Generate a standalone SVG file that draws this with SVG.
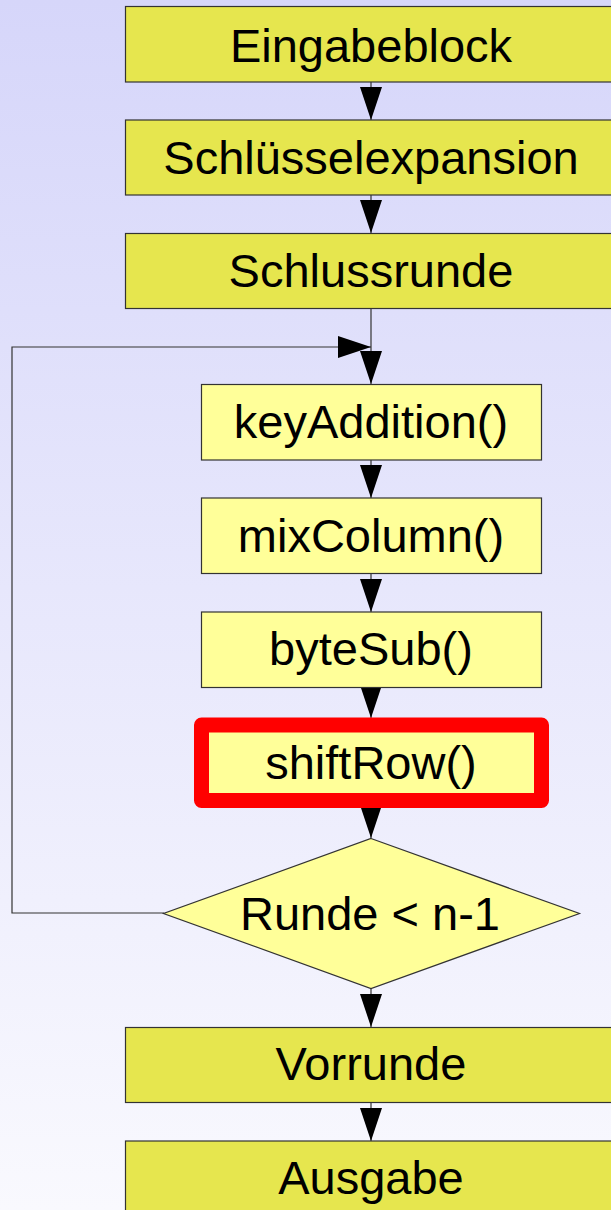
<svg xmlns="http://www.w3.org/2000/svg" width="611" height="1210" viewBox="0 0 611 1210">
<defs>
<linearGradient id="bg" x1="0" y1="0" x2="0" y2="1">
<stop offset="0" stop-color="#d6d6fa"/>
<stop offset="1" stop-color="#f9f9fe"/>
</linearGradient>
<marker id="ah" markerUnits="userSpaceOnUse" markerWidth="33" markerHeight="22" refX="33" refY="11" orient="auto">
<path d="M0,0 L33,11 L0,22 z" fill="#000"/>
</marker>
<style>
.main{fill:#e6e64e;stroke:#333;stroke-width:1.2}
.sub{fill:#ffff99;stroke:#333;stroke-width:1.2}
.hl{fill:#ffff99;stroke:#ff0000;stroke-width:15;stroke-linejoin:round}
.t{font-family:"Liberation Sans",Arial,sans-serif;font-size:47px;fill:#000;text-anchor:middle}
.c{fill:none;stroke:#333;stroke-width:1.2}
</style>
</defs>
<rect x="0" y="0" width="611" height="1210" fill="url(#bg)"/>
<g id="connectors">
<line class="c" x1="371" y1="82" x2="371" y2="120" marker-end="url(#ah)"/>
<line class="c" x1="371" y1="195" x2="371" y2="233" marker-end="url(#ah)"/>
<line class="c" x1="371" y1="309" x2="371" y2="384" marker-end="url(#ah)"/>
<path class="c" d="M164,913 H12 V347 H371" marker-end="url(#ah)"/>
<line class="c" x1="371" y1="460" x2="371" y2="498" marker-end="url(#ah)"/>
<line class="c" x1="371" y1="573" x2="371" y2="612" marker-end="url(#ah)"/>
<line class="c" x1="371" y1="687" x2="371" y2="718" marker-end="url(#ah)"/>
<line class="c" x1="371" y1="808" x2="371" y2="838" marker-end="url(#ah)"/>
<line class="c" x1="371" y1="989" x2="371" y2="1027" marker-end="url(#ah)"/>
<line class="c" x1="371" y1="1103" x2="371" y2="1141" marker-end="url(#ah)"/>
</g>
<g id="eingabeblock">
<rect class="main" x="125.5" y="6.5" width="492" height="75.5"/>
<text class="t" x="371" y="62">Eingabeblock</text>
</g>
<g id="schluesselexpansion">
<rect class="main" x="125.5" y="120" width="492" height="75"/>
<text class="t" x="371" y="174">Schlüsselexpansion</text>
</g>
<g id="schlussrunde">
<rect class="main" x="125.5" y="233.5" width="492" height="75"/>
<text class="t" x="371" y="287">Schlussrunde</text>
</g>
<g id="keyaddition">
<rect class="sub" x="201.5" y="384.5" width="340" height="75.5"/>
<text class="t" x="371" y="438">keyAddition()</text>
</g>
<g id="mixcolumn">
<rect class="sub" x="201.5" y="498" width="340" height="75.5"/>
<text class="t" x="371" y="552">mixColumn()</text>
</g>
<g id="bytesub">
<rect class="sub" x="201.5" y="612" width="340" height="75.5"/>
<text class="t" x="371" y="665">byteSub()</text>
</g>
<g id="shiftrow">
<rect class="hl" x="201.5" y="725" width="340" height="75.5"/>
<text class="t" x="371" y="779">shiftRow()</text>
</g>
<g id="runde">
<polygon class="sub" points="371,838.5 579.5,913.5 371,988.5 163.5,913.5"/>
<text class="t" x="370" y="929.5">Runde &lt; n-1</text>
</g>
<g id="vorrunde">
<rect class="main" x="125.5" y="1027.5" width="492" height="75"/>
<text class="t" x="371" y="1080">Vorrunde</text>
</g>
<g id="ausgabe">
<rect class="main" x="125.5" y="1141" width="492" height="80"/>
<text class="t" x="371" y="1194">Ausgabe</text>
</g>
</svg>
